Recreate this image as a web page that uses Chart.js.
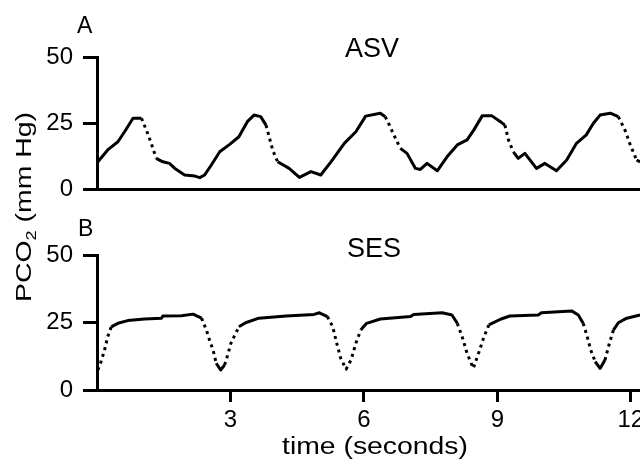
<!DOCTYPE html>
<html>
<head>
<meta charset="utf-8">
<title>PCO2 traces</title>
<script src="https://cdn.jsdelivr.net/npm/chart.js@4/dist/chart.umd.min.js"></script>
<style>
  html, body { margin: 0; padding: 0; background: #fff; overflow: hidden; }
  #wrap { position: relative; width: 640px; height: 463px; overflow: hidden; background: #fff; }
  #wrap canvas { position: absolute; left: 0; top: 0; }
</style>
</head>
<body>
<div id="wrap">
  <canvas id="topChart" width="653" height="463"></canvas>
  <canvas id="bottomChart" width="653" height="463"></canvas>
</div>
<script>
// time axis (seconds) and PCO2 (mm Hg)
const xTicks = [3, 6, 9, 12];
const yTicks = [0, 25, 50];
const X_MAX = 12.5;

// panel A - ASV
const asvTime = [0.02, 0.24, 0.47, 0.62, 0.81, 1.0, 1.11, 1.22, 1.33, 1.48, 1.63, 1.75, 1.97, 2.2, 2.31, 2.42, 2.57, 2.76, 2.99,
  3.19, 3.38, 3.53, 3.68, 3.8, 3.87, 3.95, 4.06, 4.32, 4.55, 4.81, 5.03, 5.26, 5.56, 5.82, 6.04,
  6.37, 6.48, 6.59, 6.71, 6.82, 6.97, 7.16, 7.27, 7.42, 7.65, 7.87, 8.1, 8.32, 8.47, 8.66, 8.88,
  9.07, 9.17, 9.25, 9.36, 9.47, 9.62, 9.88, 10.07, 10.33, 10.56, 10.78, 11.0, 11.16, 11.31, 11.54,
  11.72, 11.87, 11.99, 12.13, 12.21];
const asvPco2 = [10.3, 14.8, 17.9, 21.7, 26.8, 26.8, 22.3, 17.3, 11.6, 10.3, 9.7, 7.8, 5.3, 4.9, 4.3, 5.3, 9.1, 14.1, 17.0,
  19.8, 25.5, 28.0, 27.4, 24.2, 19.8, 14.8, 10.3, 7.8, 4.4, 6.6, 5.3, 10.3, 17.3, 21.7, 27.6,
  28.7, 27.4, 23.6, 19.2, 15.4, 13.5, 7.8, 7.4, 9.7, 6.9, 12.2, 16.7, 18.6, 22.3, 27.7, 27.7,
  25.5, 24.2, 18.6, 14.1, 11.6, 13.5, 7.8, 9.7, 6.9, 11.0, 17.3, 20.5, 24.9, 28.0, 28.7,
  27.4, 22.3, 16.7, 11.0, 10.3];

// panel B - SES
const sesTime = [0.02, 0.09, 0.17, 0.24, 0.32, 0.47, 0.69, 1.07, 1.45, 1.48, 1.9, 2.16, 2.35, 2.46, 2.53, 2.61, 2.68, 2.78,
  2.87, 2.95, 3.01, 3.08, 3.19, 3.34, 3.64, 4.25, 4.88, 5.0, 5.18, 5.3, 5.39, 5.48, 5.6, 5.71, 5.82,
  5.93, 6.06, 6.37, 7.05, 7.12, 7.76, 7.98, 8.1, 8.21, 8.32, 8.46, 8.59, 8.7, 8.81, 9.07, 9.28,
  9.92, 9.99, 10.67, 10.82, 10.93, 11.01, 11.1, 11.2, 11.31, 11.42, 11.52, 11.61, 11.72, 11.91, 12.21];
const sesPco2 = [7.4, 10.5, 14.8, 19.7, 23.4, 24.7, 25.7, 26.3, 26.6, 27.4, 27.5, 28.1, 26.6, 22.2, 18.5, 14.8, 9.9, 7.4,
  9.3, 13.6, 17.3, 19.7, 23.4, 24.9, 26.6, 27.4, 28.0, 28.6, 27.2, 23.4, 17.3, 11.7, 7.7, 11.1, 17.3,
  22.2, 24.7, 26.3, 27.2, 28.0, 28.6, 27.8, 24.7, 19.7, 13.6, 8.0, 14.2, 19.7, 24.1, 26.2, 27.4,
  27.8, 28.6, 29.3, 27.8, 24.7, 20.4, 14.8, 10.5, 8.0, 11.1, 17.3, 22.2, 24.9, 26.6, 27.8];

const FONT = '"Liberation Sans", Arial, Helvetica, sans-serif';
const INK = '#000';

const pts = (t, v) => t.map((x, i) => ({ x, y: v[i] }));

// steep parts of the recorder trace come out as separate dots
const dotted = ctx => {
  const dx = Math.abs(ctx.p1.x - ctx.p0.x), dy = Math.abs(ctx.p1.y - ctx.p0.y);
  return (dy > 6 && dy > 1.8 * dx) ? [3, 4] : undefined;
};

// draw a string squeezed/stretched to a given width, optional subscript part
function wideText(c, parts, cx, baseY, width) {
  let total = 0;
  parts.forEach(p => { c.font = p.size + 'px ' + FONT; p.w = c.measureText(p.text).width; total += p.w; });
  c.save();
  c.translate(cx, baseY);
  c.scale(width / total, 1);
  let x = -total / 2;
  c.textBaseline = 'alphabetic';
  c.textAlign = 'left';
  parts.forEach(p => {
    c.font = p.size + 'px ' + FONT;
    c.fillText(p.text, x, p.dy || 0);
    x += p.w;
  });
  c.restore();
}

const panelText = {
  id: 'panelText',
  afterDraw(chart, args, opts) {
    const c = chart.ctx;
    c.save();
    c.fillStyle = INK;
    c.textBaseline = 'alphabetic';
    (opts.labels || []).forEach(l => {
      c.font = l.size + 'px ' + FONT;
      c.fillText(l.text, l.x, l.y);
    });
    if (opts.yTitle) {
      c.translate(opts.yTitle.x, opts.yTitle.y);
      c.rotate(-Math.PI / 2);
      wideText(c, [{ text: 'PCO', size: 22 }, { text: '2', size: 14, dy: 5 }, { text: ' (mm Hg)', size: 22 }], 0, 0, 190);
    }
    c.restore();
    if (opts.xTitle) {
      c.save();
      c.fillStyle = INK;
      wideText(c, [{ text: 'time (seconds)', size: 23 }], opts.xTitle.x, opts.xTitle.y, 186);
      c.restore();
    }
  }
};

function yScale() {
  return {
    type: 'linear', min: 0, max: 50,
    afterBuildTicks: axis => { axis.ticks = yTicks.map(value => ({ value })); },
    afterFit: s => { s.width = 97; },
    ticks: { color: INK, font: { family: FONT, size: 24 }, padding: 10 },
    grid: { drawOnChartArea: false, drawTicks: true, tickLength: 14, tickWidth: 3, tickColor: INK },
    border: { display: true, width: 3, color: INK }
  };
}

function trace(t, v) {
  return {
    data: pts(t, v),
    borderColor: INK, borderWidth: 3, pointRadius: 0, tension: 0,
    borderJoinStyle: 'round',
    segment: { borderDash: dotted }
  };
}

new Chart(document.getElementById('topChart'), {
  type: 'line',
  data: { datasets: [trace(asvTime, asvPco2)] },
  plugins: [panelText],
  options: {
    responsive: false, animation: false, events: [],
    layout: { padding: { left: 0, right: 0, top: 57, bottom: 274 } },
    plugins: {
      legend: { display: false }, tooltip: { enabled: false },
      panelText: {
        labels: [{ text: 'A', size: 23, x: 77, y: 33 }, { text: 'ASV', size: 27, x: 345, y: 57 }],
        yTitle: { x: 31, y: 207 }
      }
    },
    scales: {
      x: {
        type: 'linear', min: 0, max: X_MAX,
        afterFit: s => { s.height = 0; },
        ticks: { display: false },
        grid: { drawOnChartArea: false, drawTicks: false },
        border: { display: true, width: 3, color: INK }
      },
      y: yScale()
    }
  }
});

new Chart(document.getElementById('bottomChart'), {
  type: 'line',
  data: { datasets: [trace(sesTime, sesPco2)] },
  plugins: [panelText],
  options: {
    responsive: false, animation: false, events: [],
    layout: { padding: { left: 0, right: 0, top: 255, bottom: 0 } },
    plugins: {
      legend: { display: false }, tooltip: { enabled: false },
      panelText: {
        labels: [{ text: 'B', size: 23, x: 78, y: 236 }, { text: 'SES', size: 27, x: 347, y: 257 }],
        xTitle: { x: 375, y: 454 }
      }
    },
    scales: {
      x: {
        type: 'linear', min: 0, max: X_MAX,
        afterBuildTicks: axis => { axis.ticks = xTicks.map(value => ({ value })); },
        afterFit: s => { s.height = 73; },
        ticks: { color: INK, font: { family: FONT, size: 24 }, padding: 4, maxRotation: 0 },
        grid: { drawOnChartArea: false, drawTicks: true, tickLength: 12, tickWidth: 3, tickColor: INK },
        border: { display: true, width: 3, color: INK }
      },
      y: yScale()
    }
  }
});
</script>
</body>
</html>
